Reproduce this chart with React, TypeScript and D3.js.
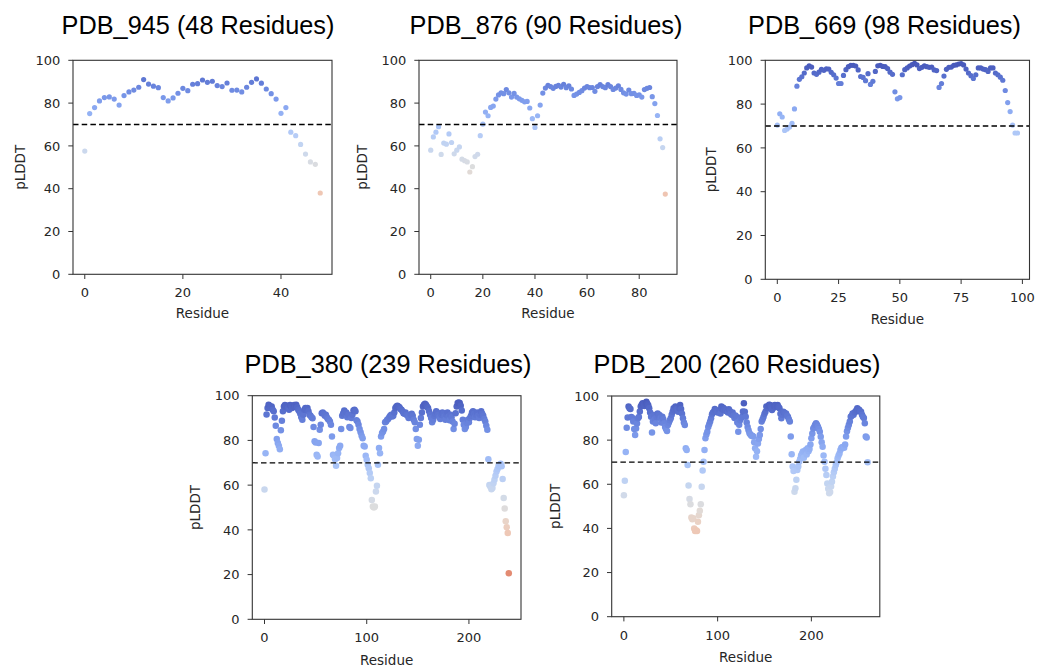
import React from 'react';
import * as d3 from 'd3';

// ---------- data (pLDDT per residue) ----------
const plddt945 = [57.6,75.1,77.9,81,82.6,82.9,81.9,79.1,83.5,85.2,86.1,87.4,91,88.9,87.9,87.2,82.6,81,82.4,84.6,86.9,85.8,88.8,89.1,90.8,89.7,90.2,88.2,87.7,89.4,86,86.1,85.2,87.4,89.7,91.3,89.3,86.6,84.4,81.9,75.2,77.9,66.4,64.8,60.7,56.2,52.5,51.4,38];

const plddt876 = [58,64.2,66.4,69,56,61.3,60.8,65.6,61.6,56.3,58,59.5,53.8,53.1,52.5,47.8,50.3,55,56.1,64.8,70.2,75.8,74.1,78,78.6,81.9,83.8,84.8,84.4,86.3,84.8,82.8,84.5,82.8,82,81.3,80.6,80.8,77.7,72.7,68.6,74.1,79.1,84.7,87,88.3,87.7,86.9,87.8,88.3,87.5,88.8,87.2,88.1,86.6,83.6,84.2,85,85.8,87,87.7,87.2,87.3,85.5,87.7,88.6,87.7,87.2,88.6,87.7,86.4,87,88.1,86.4,84.8,84.2,86.1,84.4,84.5,83.6,83.8,82.8,86.3,86.9,87.3,83,79.8,74.2,63.3,59.2,37.5];

const plddt669 = [70.4,75.6,74.1,68,68.6,69.5,71.2,77.8,88.2,91.3,92.5,94.2,96.5,97.5,96.9,94.2,93.6,94.6,95.9,95.4,96.1,96,94.5,93.4,91.9,89.4,89.4,93.1,95.7,97.1,97.7,97.7,97.4,95.6,92.6,92.2,90.7,93.9,89,90.4,94.9,97.5,97.7,97.2,97.1,96.2,94.6,93.6,85.6,82.4,83,93.4,95.7,96.5,97.4,98,98.6,97.9,96.2,96.8,97.5,97.1,96.8,96.9,95.6,95.3,87.6,89.4,92.8,95.9,96.8,96.9,97.7,97.9,98.3,98.5,97.9,96,94.2,93,91.7,93.4,96.5,96.5,96,95.7,94.9,96.5,96.5,94.2,93.4,92.3,90.9,86.2,80.7,76.6,70.4,66.8,66.8];

const plddt380 = [58,74.3,91.6,94.5,96,95.5,94.5,95.2,93.7,93,90.3,86.6,80.6,78.8,77.6,76.1,84.5,88.8,93,95.2,95.8,95.2,95.5,94.5,93.7,95.8,95.2,94.5,95.2,95.8,95.2,96,94.8,93.7,93,91.9,90.4,89.3,91.5,93.7,94.5,93.7,94.5,93,91.5,91,90.4,89.9,86,79.6,79.1,73.6,72.8,78.8,84.8,87,92.2,92.5,91.9,91,91.5,90.4,89.6,89.3,88.5,87,81.8,73.6,73.1,71.6,68.7,72.1,74.3,76.6,77.6,85.1,91,92.2,93.4,91.9,92.5,90.4,91.5,86,85.5,90,91.5,93.4,93.7,93,89,88.5,87,85.1,83.6,82.1,81,77.6,77.3,73.1,71.3,69.1,67.6,65.4,63.1,53.4,50.4,50,50.4,57.2,59.7,69.1,76.6,74.3,81.8,83.3,84,85.1,88.1,88.5,89.3,89.6,90.4,91,91.5,90.7,91,92.5,94.5,95.2,95.5,95.2,94.8,94,93.7,93,92.2,91.9,92.5,91.5,91,90,90.4,91.5,91.9,91,89.3,88.1,85.1,80.6,77.6,80.3,87,90,92.5,95.2,96,96.4,96,95.2,94.5,93,91.5,90,88.1,89.3,91,91.9,93,92.5,91.5,90.4,89.6,91.5,92.5,91.9,90.7,89.3,91.5,92.5,90.7,89,91.5,90.4,88.5,85.1,87.5,92.2,95.2,96.7,97,96.7,95.5,93.4,89.3,87,85.1,86,87.8,89.3,88.1,90,91,92.5,93,91.9,90.4,91.5,92.5,91,90,91.5,93,91.9,91,89.6,88.5,86.6,84.8,71.6,60.1,59.3,58.2,58.7,60.9,62.4,64.2,66.1,67.2,68.7,68.4,69.6,68.4,62.7,54.3,49.6,43.8,41.2,38.6,20.6];

const plddt200 = [55,61.6,74.6,85.6,90.3,95.2,94.5,94.1,90.5,90,88.5,85,82.3,85.3,87.5,89.9,90.5,93,95.2,96,96.7,96.2,95.5,96.5,97.4,96.5,95.8,94.4,92.5,90.6,83.5,88.5,91.4,89.5,87.6,90.5,92.1,91,91.4,89.9,88,90.6,89.5,87.6,86,85,84.1,86.9,88,89,89.9,91.5,92.9,94.4,93.5,95.2,94,93.5,92.9,94.5,95.9,94.1,92,89.9,88,86.9,76.3,75.5,68.7,59.4,53.3,50.9,44.9,44.2,44.6,40,38.8,39.2,38.8,43,46,48,50.9,58.9,66.3,70.2,75.5,80.8,82.5,83.8,86,87.2,88.5,89.9,91.7,92.5,92.9,94.1,93.5,93,92.5,92.8,93.5,92.1,95.2,94,94.7,93.5,94,93.2,93.5,92.5,94,93.2,92,91.5,92.5,91,90,91.2,90.6,88,83.8,87,89,90,90.6,93,96.7,92.9,90.6,88,86,84.5,83.1,82.5,82,82,81.6,79,76.3,72.5,75,78.5,80.5,82.3,85,88.4,89.5,90.6,92,92.9,95.2,94.5,95.5,96,95.9,95,93.7,94.5,95.5,95.9,95,95.5,95.9,95,94.4,92,89.9,91.5,92.9,92.5,92,92.1,91,90.6,89.5,88.4,81.6,73.6,68,66,56.6,58.2,62,66.5,68,70.2,71.5,73,74,74.8,72,75,75.5,73.5,76.3,75,76,78,80.8,83,85.3,86,87,87.6,87,86.1,85,83.8,81.5,79,77,73,70.2,67,64.2,60.4,58,55.9,56.5,59,61.2,63.5,65.4,67,68.7,70,71.8,73,74,75.5,76.6,76.8,77,76.5,78,81.6,84,85.6,87,88.4,90.6,91,92.1,91.5,92.5,92.9,93.5,94.4,93.5,93.8,93,92.9,91.5,90.6,90,87.6,81.6,81.2,70];

const titles = ['PDB_945 (48 Residues)', 'PDB_876 (90 Residues)', 'PDB_669 (98 Residues)', 'PDB_380 (239 Residues)', 'PDB_200 (260 Residues)'];
const xTicks945 = [0, 20, 40];
const xTicks876 = [0, 20, 40, 60, 80];
const xTicks669 = [0, 25, 50, 75, 100];
const xTicks380 = [0, 100, 200];
const xTicks200 = [0, 100, 200];
const yTicks = [0, 20, 40, 60, 80, 100];
const threshold = 70;

// ---------- colour map (matplotlib coolwarm, reversed) ----------
const COOLWARM = [
  [59,76,192],[68,90,204],[77,104,215],[87,117,225],[98,130,234],[108,142,241],[119,154,247],[130,165,251],
  [141,176,254],[152,185,255],[163,194,255],[174,201,253],[184,208,249],[194,213,244],[204,217,238],[213,219,230],
  [221,221,221],[229,216,209],[236,211,197],[241,204,185],[245,196,173],[247,187,160],[247,177,148],[247,166,135],
  [244,154,123],[241,141,111],[236,127,99],[229,112,88],[222,96,77],[213,80,66],[203,62,56],[192,40,47],[180,4,38]
];
function coolwarm(t: number): string {
  const c = Math.max(0, Math.min(1, t));
  const n = COOLWARM.length - 1;
  const i = Math.min(n - 1, Math.floor(c * n));
  const f = c * n - i;
  const a = COOLWARM[i], b = COOLWARM[i + 1];
  const raw = [0, 1, 2].map(k => a[k] + (b[k] - a[k]) * f);
  const mean = (raw[0] + raw[1] + raw[2]) / 3;
  const m = raw.map(v => Math.round(mean + (v - mean) * 0.85));
  return `rgb(${m[0]},${m[1]},${m[2]})`;
}
const colorScale = d3.scaleLinear().domain([0, 100]).range([1, 0]);
const colorFor = (v: number) => coolwarm(colorScale(v));

// ---------- layout ----------
interface Layout {
  x0: number; x1: number; y0: number; y1: number;
  titleX: number; titleY: number; ylabelX: number; xlabelY: number; r: number;
}
const layouts: Layout[] = [
  { x0: 73, x1: 332, y0: 60.3, y1: 274.3, titleX: 198, titleY: 34, ylabelX: 24.5, xlabelY: 318, r: 2.6 },
  { x0: 419, x1: 677, y0: 60.3, y1: 274.3, titleX: 546, titleY: 34, ylabelX: 367, xlabelY: 318, r: 2.6 },
  { x0: 765.3, x1: 1029.5, y0: 60.3, y1: 279.3, titleX: 884.5, titleY: 34, ylabelX: 715.5, xlabelY: 324, r: 2.6 },
  { x0: 252.3, x1: 521, y0: 395.7, y1: 619.3, titleX: 388, titleY: 373.3, ylabelX: 200.3, xlabelY: 664.5, r: 3.25 },
  { x0: 611.7, x1: 879.8, y0: 396, y1: 616.7, titleX: 737, titleY: 373.3, ylabelX: 559.5, xlabelY: 662, r: 3.25 },
];

const series = [plddt945, plddt876, plddt669, plddt380, plddt200];
const xTickSets = [xTicks945, xTicks876, xTicks669, xTicks380, xTicks200];

const TICK_FONT = "'DejaVu Sans', sans-serif";
const TITLE_FONT = "'Liberation Sans', Arial, sans-serif";
const AXIS_COLOR = '#333';
const TEXT_COLOR = '#262626';

function Panel({ values, title, xticks, L }: { values: number[]; title: string; xticks: number[]; L: Layout }) {
  const last = values.length - 1;
  const x = d3.scaleLinear().domain([-last * 0.05, last * 1.05]).range([L.x0, L.x1]);
  const y = d3.scaleLinear().domain([0, 100]).range([L.y1, L.y0]);
  const tickLen = 4.7;
  return (
    <g>
      <text x={L.titleX} y={L.titleY} textAnchor="middle" fontFamily={TITLE_FONT} fontSize={25.3} fill="#000">{title}</text>
      {values.map((v, i) => (
        <circle key={i} cx={x(i)} cy={y(v)} r={L.r} fill={colorFor(v)} />
      ))}
      <line x1={L.x0} x2={L.x1} y1={y(threshold)} y2={y(threshold)} stroke="#000" strokeWidth={1.3} strokeDasharray="5.5,3.2" />
      <rect x={L.x0} y={L.y0} width={L.x1 - L.x0} height={L.y1 - L.y0} fill="none" stroke={AXIS_COLOR} strokeWidth={1.1} />
      {yTicks.map(t => (
        <g key={'y' + t}>
          <line x1={L.x0 - tickLen} x2={L.x0} y1={y(t)} y2={y(t)} stroke={AXIS_COLOR} strokeWidth={1} />
          <text x={L.x0 - tickLen - 8} y={y(t)} dy="0.36em" textAnchor="end" fontFamily={TICK_FONT} fontSize={13} fill={TEXT_COLOR}>{t}</text>
        </g>
      ))}
      {xticks.map(t => (
        <g key={'x' + t}>
          <line x1={x(t)} x2={x(t)} y1={L.y1} y2={L.y1 + tickLen} stroke={AXIS_COLOR} strokeWidth={1} />
          <text x={x(t)} y={L.y1 + 23} textAnchor="middle" fontFamily={TICK_FONT} fontSize={13} fill={TEXT_COLOR}>{t}</text>
        </g>
      ))}
      <text x={(L.x0 + L.x1) / 2} y={L.xlabelY} textAnchor="middle" fontFamily={TICK_FONT} fontSize={13.5} fill={TEXT_COLOR}>Residue</text>
      <text transform={`translate(${L.ylabelX},${(L.y0 + L.y1) / 2}) rotate(-90)`} textAnchor="middle" fontFamily={TICK_FONT} fontSize={13.5} fill={TEXT_COLOR}>pLDDT</text>
    </g>
  );
}

export default function App() {
  return (
    <svg width={1037} height={666} style={{ position: 'absolute', left: 0, top: 0, background: '#fff' }}>
      <rect width={1037} height={666} fill="#fff" />
      {series.map((vals, i) => (
        <Panel key={i} values={vals} title={titles[i]} xticks={xTickSets[i]} L={layouts[i]} />
      ))}
    </svg>
  );
}
